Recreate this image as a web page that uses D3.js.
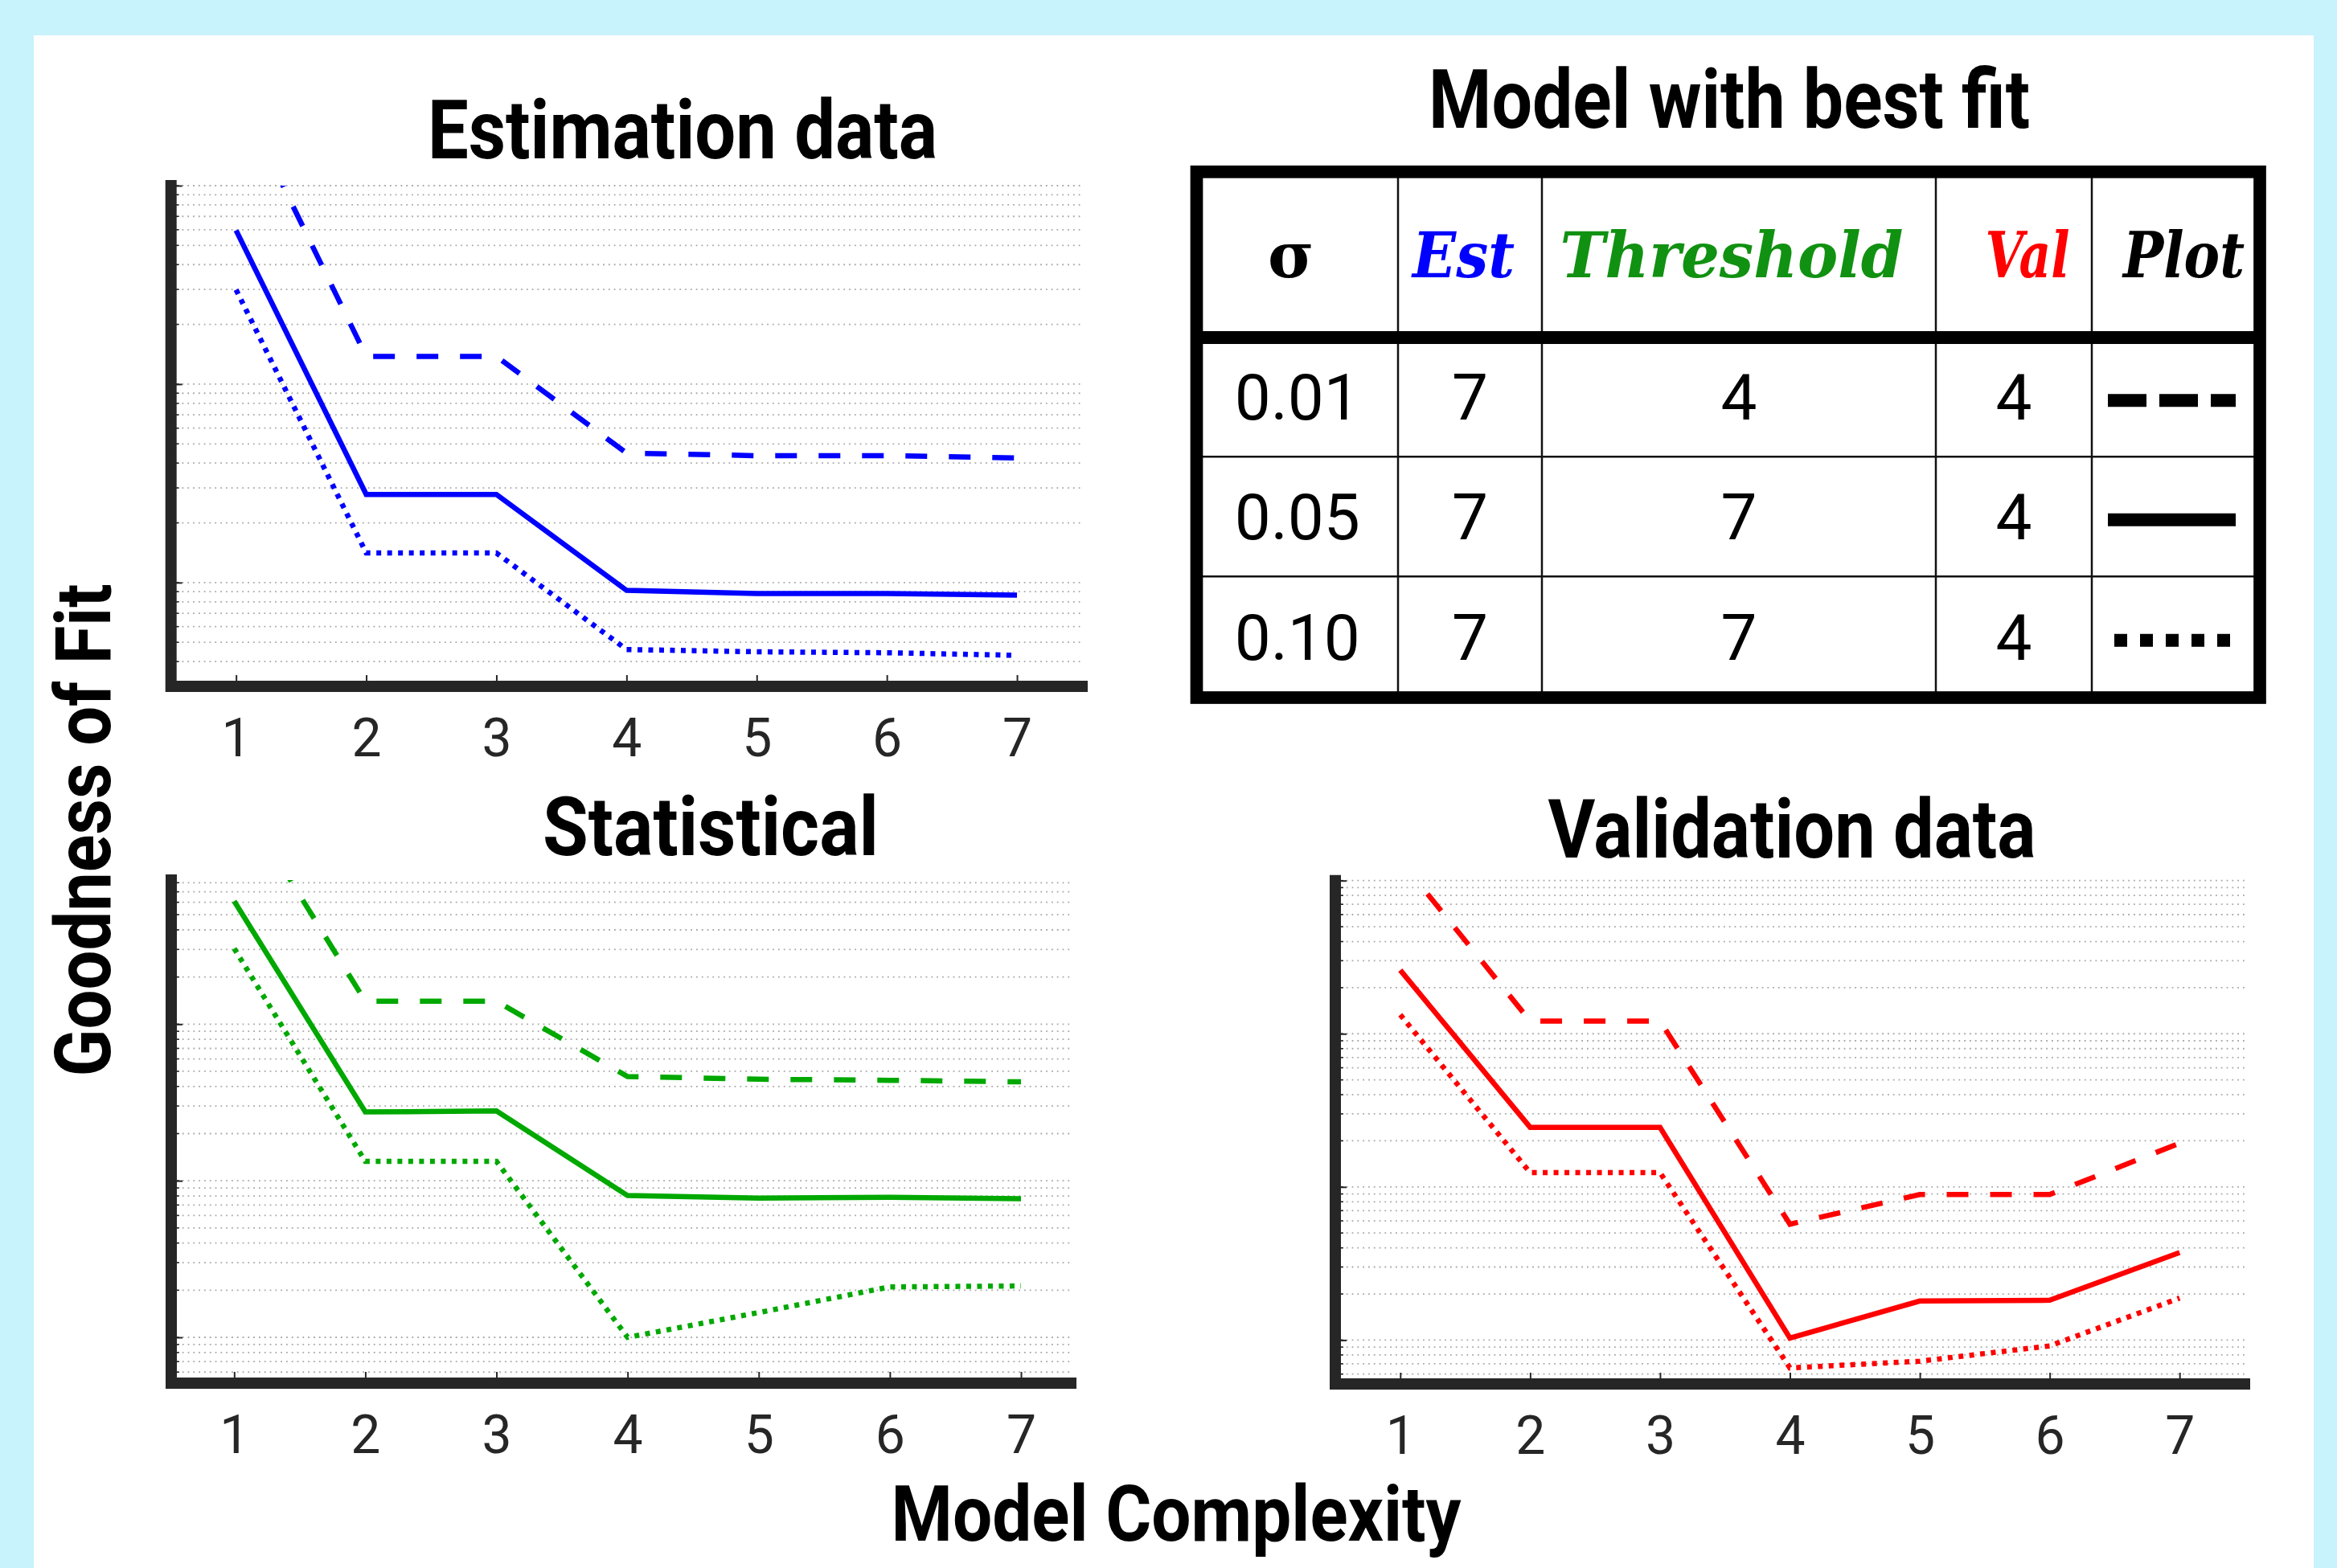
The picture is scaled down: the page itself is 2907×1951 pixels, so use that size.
<!DOCTYPE html>
<html>
<head>
<meta charset="utf-8">
<script src="https://cdn.jsdelivr.net/npm/d3@7"></script>
<style>
  body { margin: 0; background: #c8f2fc; }
  svg { display: block; }
</style>
</head>
<body>
<svg id="chart" width="2907" height="1951"></svg>
<script>
// model complexity on the x axis
const complexity = [1, 2, 3, 4, 5, 6, 7]
const sigmas = ["0.01", "0.05", "0.10"]
const styles = ["dashed", "solid", "dotted"]

// goodness of fit (log scale), one array per sigma
const est001 = [0.305, 0.0138, 0.0138, 0.00449, 0.00436, 0.00436, 0.00425]
const est005 = [0.0595, 0.00278, 0.00278, 0.000914, 0.000881, 0.000881, 0.000865]
const est010 = [0.0299, 0.00141, 0.00141, 0.00046, 0.000448, 0.000443, 0.00043]

const stat001 = [3.16, 0.140, 0.140, 0.0463, 0.0445, 0.0438, 0.0428]
const stat005 = [0.61, 0.0275, 0.0279, 0.00804, 0.00774, 0.00785, 0.00767]
const stat010 = [0.304, 0.0133, 0.0133, 0.00100, 0.00144, 0.00210, 0.00213]

const val001 = [1.36, 0.121, 0.121, 0.00571, 0.00892, 0.00892, 0.0193]
const val005 = [0.260, 0.0245, 0.0245, 0.00103, 0.00180, 0.00182, 0.00373]
const val010 = [0.133, 0.0124, 0.0124, 0.000658, 0.000728, 0.000916, 0.00188]

// best fit table
const headers = ["σ", "Est", "Threshold", "Val", "Plot"]
const headerColors = ["#000000", "#0000ff", "#119111", "#ff0000", "#000000"]
const bestEst = [7, 7, 7]
const bestThreshold = [4, 7, 7]
const bestVal = [4, 4, 4]

const AXIS = "#262626"
const dashFor = { dashed: "27,27", solid: null, dotted: "6,7.5" }
const titleFont = "Roboto, 'Liberation Sans', sans-serif"

const svg = d3.select("#chart")

svg.append("rect").attr("width", 2907).attr("height", 1951).attr("fill", "#c8f2fc")
svg.append("rect").attr("x", 42).attr("y", 44).attr("width", 2836).attr("height", 1907).attr("fill", "#ffffff")

function title(txt, cx, baseline, len, size) {
    svg.append("text")
        .attr("x", cx).attr("y", baseline)
        .attr("text-anchor", "middle")
        .attr("font-family", titleFont)
        .attr("font-weight", 700)
        .attr("font-size", size)
        .attr("textLength", len)
        .attr("lengthAdjust", "spacingAndGlyphs")
        .text(txt)
}

function logGrid(domain) {
    const out = []
    const lo = Math.floor(Math.log10(domain[0])), hi = Math.ceil(Math.log10(domain[1]))
    for (let e = lo; e <= hi; e++) {
        for (let k = 1; k <= 9; k++) {
            const v = k * Math.pow(10, e)
            if (v >= domain[0] * 0.999 && v <= domain[1] * 1.001) out.push(v)
        }
    }
    return out
}

const panels = [
    { name: "est", title: "Estimation data", color: "#0000ff", series: [est001, est005, est010],
      xDomain: [0.5, 7.5], yDomain: [3e-4, 0.1],
      left: 212.7, right: 1346, top: 231, bottom: 854, tx: 849, ty: 197, tw: 634 },
    { name: "stat", title: "Statistical", color: "#00a800", series: [stat001, stat005, stat010],
      xDomain: [0.52, 7.38], yDomain: [5.1e-4, 0.832],
      left: 213, right: 1332, top: 1095, bottom: 1721, tx: 884, ty: 1064, tw: 418 },
    { name: "val", title: "Validation data", color: "#ff0000", series: [val001, val005, val010],
      xDomain: [0.5, 7.5], yDomain: [5.17e-4, 1.0],
      left: 1661, right: 2792, top: 1095.7, bottom: 1722, tx: 2229, ty: 1067, tw: 607 }
]

panels.forEach(p => {
    const x = d3.scaleLinear().domain(p.xDomain).range([p.left, p.right])
    const y = d3.scaleLog().domain(p.yDomain).range([p.bottom, p.top])
    const g = svg.append("g")

    g.append("clipPath").attr("id", "clip-" + p.name)
        .append("rect")
        .attr("x", p.left).attr("y", p.top)
        .attr("width", p.right - p.left).attr("height", p.bottom - p.top)

    // dotted minor grid
    g.append("g").selectAll("line")
        .data(logGrid(p.yDomain))
        .join("line")
        .attr("x1", p.left + 7).attr("x2", p.right)
        .attr("y1", d => y(d)).attr("y2", d => y(d))
        .attr("stroke", "#a8a8a8")
        .attr("stroke-width", 1.8)
        .attr("stroke-dasharray", "1.8,5")

    const line = d3.line().x((d, i) => x(complexity[i])).y(d => y(d))

    g.append("g").attr("clip-path", `url(#clip-${p.name})`)
        .selectAll("path")
        .data(p.series)
        .join("path")
        .attr("d", line)
        .attr("fill", "none")
        .attr("stroke", p.color)
        .attr("stroke-width", 6.5)
        .attr("stroke-dasharray", (d, i) => dashFor[styles[i]])

    // x axis ticks + labels
    const xAxis = d3.axisBottom(x).tickValues(complexity).tickFormat(d3.format("d"))
        .tickSize(-14).tickPadding(40)
    const xg = g.append("g").attr("transform", `translate(0,${p.bottom})`).call(xAxis)
    xg.select(".domain").remove()
    xg.selectAll(".tick line").attr("stroke", AXIS).attr("stroke-width", 2)
    xg.selectAll(".tick text")
        .attr("font-family", "Roboto, sans-serif")
        .attr("font-size", 66)
        .attr("fill", AXIS)

    // y axis: major and minor ticks, no labels
    const major = logGrid(p.yDomain).filter(v => Math.abs(Math.log10(v) - Math.round(Math.log10(v))) < 1e-6)
    const yg = g.append("g").attr("transform", `translate(${p.left},0)`)
        .call(d3.axisLeft(y).tickValues(major).tickSize(-14).tickFormat(""))
    yg.select(".domain").remove()
    yg.selectAll(".tick line").attr("stroke", AXIS).attr("stroke-width", 2)
    g.append("g").selectAll("line")
        .data(logGrid(p.yDomain))
        .join("line")
        .attr("x1", p.left).attr("x2", p.left + 10)
        .attr("y1", d => y(d)).attr("y2", d => y(d))
        .attr("stroke", AXIS).attr("stroke-width", 1.5)

    // thick axis lines
    g.append("path")
        .attr("d", `M${p.left},${p.top}V${p.bottom}H${p.right}`)
        .attr("fill", "none")
        .attr("stroke", AXIS)
        .attr("stroke-width", 14)
        .attr("stroke-linecap", "square")
        .attr("stroke-linejoin", "miter")

    title(p.title, p.tx, p.ty, p.tw, 102)
})

// shared axis titles
title("Model Complexity", 1463, 1917, 709, 96)
svg.append("text")
    .attr("transform", "translate(136.7,1033) rotate(-90)")
    .attr("text-anchor", "middle")
    .attr("font-family", titleFont)
    .attr("font-weight", 700)
    .attr("font-size", 96)
    .attr("textLength", 613)
    .attr("lengthAdjust", "spacingAndGlyphs")
    .text("Goodness of Fit")

// ---- table ----
title("Model with best fit", 2151, 159, 748, 102)

const colEdges = [1488.5, 1739, 1918, 2408, 2602, 2811]
const rowEdges = [213.8, 420, 568.3, 717.3, 868]
const headerNudge = [-8, -8, -9, 17, 10]
const headerWidth = [null, 127, 427, 105, 151]
const tbl = svg.append("g")

tbl.selectAll(".col")
    .data(colEdges.slice(1, -1))
    .join("line")
    .attr("x1", d => d).attr("x2", d => d)
    .attr("y1", rowEdges[0]).attr("y2", rowEdges[4])
    .attr("stroke", "#111").attr("stroke-width", 2.5)
tbl.selectAll(".row")
    .data(rowEdges.slice(2, -1))
    .join("line")
    .attr("x1", colEdges[0]).attr("x2", colEdges[5])
    .attr("y1", d => d).attr("y2", d => d)
    .attr("stroke", "#111").attr("stroke-width", 2.5)
tbl.append("line")
    .attr("x1", colEdges[0]).attr("x2", colEdges[5])
    .attr("y1", rowEdges[1]).attr("y2", rowEdges[1])
    .attr("stroke", "#000").attr("stroke-width", 16)
tbl.append("rect")
    .attr("x", colEdges[0]).attr("y", rowEdges[0])
    .attr("width", colEdges[5] - colEdges[0]).attr("height", rowEdges[4] - rowEdges[0])
    .attr("fill", "none").attr("stroke", "#000").attr("stroke-width", 15.7)

const colMid = i => (colEdges[i] + colEdges[i + 1]) / 2
const rowMid = i => (rowEdges[i] + rowEdges[i + 1]) / 2

headers.forEach((h, i) => {
    const t = tbl.append("text")
        .attr("x", colMid(i) + headerNudge[i])
        .attr("y", rowMid(0) + 28)
        .attr("text-anchor", "middle")
        .attr("font-family", "'DejaVu Serif', serif")
        .attr("font-weight", 700)
        .attr("font-style", i === 0 ? "normal" : "italic")
        .attr("font-size", 78)
        .attr("fill", headerColors[i])
        .text(h)
    if (headerWidth[i]) t.attr("textLength", headerWidth[i]).attr("lengthAdjust", "spacingAndGlyphs")
})

const bodyCols = [sigmas, bestEst, bestThreshold, bestVal]
bodyCols.forEach((col, c) => {
    tbl.selectAll(null)
        .data(col)
        .join("text")
        .attr("x", colMid(c))
        .attr("y", (d, r) => rowMid(r + 1) + 28)
        .attr("text-anchor", "middle")
        .attr("font-family", "Roboto, sans-serif")
        .attr("font-size", 80)
        .attr("fill", "#000")
        .text(d => d)
})

// line style samples in the Plot column
const sampleDash = { dashed: "48,16", solid: null, dotted: "16,16" }
tbl.selectAll(".sample")
    .data(styles)
    .join("line")
    .attr("x1", d => d === "dotted" ? 2630 : 2622)
    .attr("x2", 2781)
    .attr("y1", (d, r) => rowMid(r + 1) + 4)
    .attr("y2", (d, r) => rowMid(r + 1) + 4)
    .attr("stroke", "#000")
    .attr("stroke-width", 16)
    .attr("stroke-dasharray", d => sampleDash[d])
</script>
</body>
</html>
